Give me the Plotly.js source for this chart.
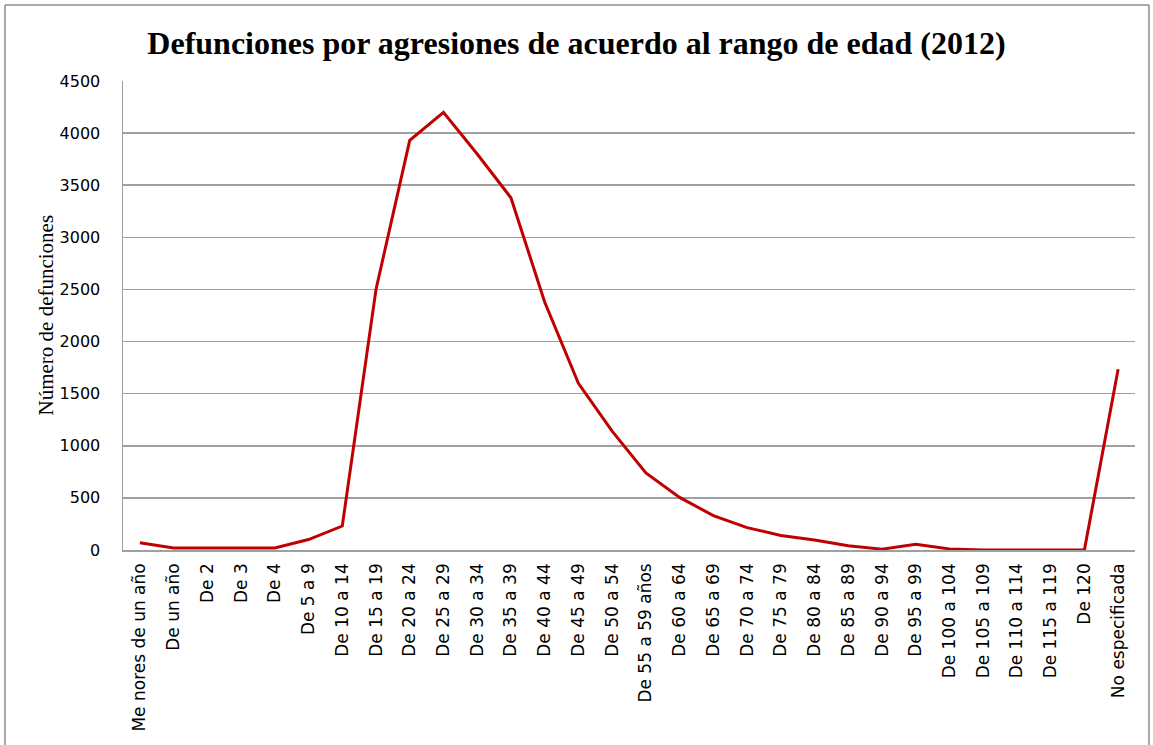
<!DOCTYPE html>
<html>
<head>
<meta charset="utf-8">
<script src="https://cdn.plot.ly/plotly-3.0.1.min.js"></script>
<style>html,body{margin:0;padding:0;background:#fff;}#chart{width:1153px;height:745px;}</style>
</head>
<body>
<div id="chart"></div>
<script>
const categories = ["Me nores de un año","De un año","De 2","De 3","De 4","De 5 a 9","De 10 a 14","De 15 a 19","De 20 a 24","De 25 a 29","De 30 a 34","De 35 a 39","De 40 a 44","De 45 a 49","De 50 a 54","De 55 a 59 años","De 60 a 64","De 65 a 69","De 70 a 74","De 75 a 79","De 80 a 84","De 85 a 89","De 90 a 94","De 95 a 99","De 100 a 104","De 105 a 109","De 110 a 114","De 115 a 119","De 120","No especificada"];
const deaths = [70,20,20,20,20,100,230,2500,3930,4200,3800,3380,2380,1600,1140,740,505,330,215,140,95,40,8,55,10,0,0,0,0,1735];
const yTicks = [0,500,1000,1500,2000,2500,3000,3500,4000,4500];
const titleText = "Defunciones por agresiones de acuerdo al rango de edad (2012)";
const yTitleText = "Número de defunciones";

const L = 123, R = 1135, T = 81, B = 550, W = 1153, H = 745;
const px2x = p => (p - L) / (R - L);
const px2y = p => (B - p) / (B - T);

const trace = {
  x: categories, y: deaths, type: 'scatter', mode: 'lines',
  line: {color: '#c00000', width: 3}, hoverinfo: 'x+y'
};

const layout = {
  width: W, height: H,
  margin: {l: L, r: W - R, t: T, b: H - B},
  paper_bgcolor: '#fff', plot_bgcolor: '#fff',
  showlegend: false,
  title: {text: titleText, x: 0.5, xref: 'container', y: 1 - 43/H, yref: 'container', yanchor: 'middle', xanchor: 'center',
    font: {family: 'Liberation Serif, serif', size: 32, color: '#000', weight: 'bold'}},
  xaxis: {type: 'category', range: [-0.5, categories.length - 0.5], tickangle: -90, showgrid: false, showline: true, linecolor: '#a0a0a0', linewidth: 1.5,
    ticks: '', ticklabelstandoff: 5, tickfont: {family: 'DejaVu Sans, sans-serif', size: 17, color: '#000'}, fixedrange: true},
  yaxis: {range: [0, 4500], tickvals: yTicks, ticktext: yTicks.map(String), showgrid: true, gridcolor: '#a0a0a0', gridwidth: 1.5,
    showline: true, linecolor: '#a0a0a0', linewidth: 1.5, zeroline: false, ticks: '', ticklabelstandoff: 18,
    tickfont: {family: 'DejaVu Sans, sans-serif', size: 16, color: '#000'}, fixedrange: true},
  annotations: [{text: yTitleText, xref: 'paper', yref: 'paper', x: px2x(45), y: 0.5, xanchor: 'center', yanchor: 'middle',
    textangle: -90, showarrow: false, font: {family: 'Liberation Serif, serif', size: 21, color: '#000'}}],
  shapes: [
    {type: 'line', xref: 'paper', yref: 'paper', x0: px2x(5), x1: px2x(5), y0: px2y(5), y1: px2y(760), line: {color: '#8c8c8c', width: 1.5}},
    {type: 'line', xref: 'paper', yref: 'paper', x0: px2x(5), x1: px2x(1149), y0: px2y(5), y1: px2y(5), line: {color: '#8c8c8c', width: 1.5}},
    {type: 'line', xref: 'paper', yref: 'paper', x0: px2x(1149), x1: px2x(1149), y0: px2y(5), y1: px2y(760), line: {color: '#8c8c8c', width: 1.5}}
  ]
};

Plotly.newPlot('chart', [trace], layout, {displayModeBar: false, staticPlot: true});
</script>
</body>
</html>
